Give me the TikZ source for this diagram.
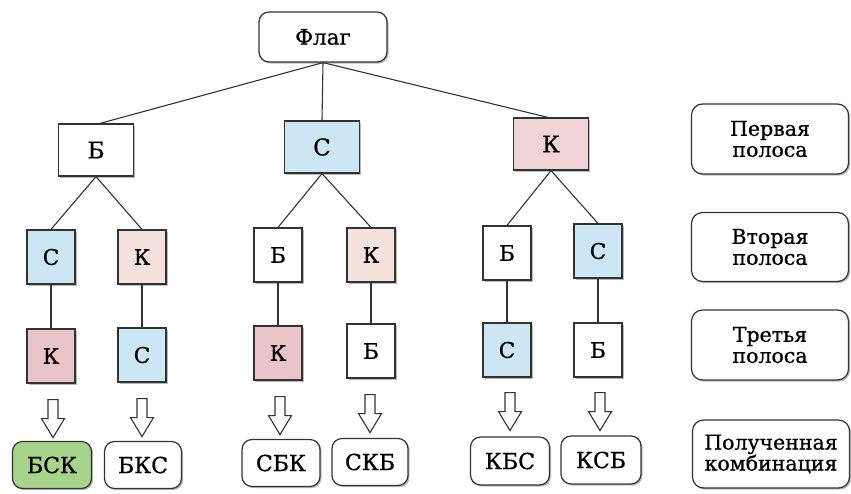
\documentclass[tikz,border=0pt]{standalone}
\usepackage{fontspec}
\setmainfont{DejaVu Serif}[FakeBold=0.8]
\usetikzlibrary{shadows,calc}
\definecolor{cblue}{HTML}{CDE6F3}
\definecolor{cpink}{HTML}{EFD3D6}
\definecolor{cpeach}{HTML}{F5E2DC}
\definecolor{crose}{HTML}{E9C4C8}
\definecolor{cgreen}{HTML}{A8D38A}
\begin{document}
\begin{tikzpicture}[x=1pt,y=-1pt,
  shadowed/.style={drop shadow={shadow xshift=1.6pt,shadow yshift=-1.6pt,fill=black!50,opacity=0.55}},
  sq/.style={draw=black!80, line width=1.2pt, fill=white, inner sep=0pt, shadowed,
     minimum width=48pt, minimum height=54pt, font=\fontsize{21.5}{24}\selectfont},
  top/.style={sq, minimum width=75pt, minimum height=52pt, font=\fontsize{23}{25}\selectfont},
  res/.style={draw=black!80, line width=1.2pt, fill=white, rounded corners=10pt, inner sep=0pt, shadowed,
     minimum width=78pt, minimum height=47pt, font=\fontsize{22}{24}\selectfont},
  lab/.style={draw=black!80, line width=1.2pt, fill=white, rounded corners=11pt, inner sep=0pt, shadowed,
     minimum width=157pt, minimum height=70pt, align=center, font=\fontsize{20.5}{23}\selectfont},
  link/.style={draw=black!80, line width=1.1pt},
  hollow/.pic={\draw[black!80, line width=1.1pt, fill=white] (-5,0)--(5,0)--(5,19)--(11.5,19)--(0,38)--(-11.5,19)--(-5,19)--cycle;}
]
\useasboundingbox (0,0) rectangle (851,493);

% root
\node[res, minimum width=128pt, minimum height=50pt, font=\fontsize{21.5}{24}\selectfont] (flag) at (323,37) {Флаг};

% level 1
\node[top] (b) at (96,150) {Б};
\node[top, fill=cblue] (c) at (322,147) {С};
\node[top, fill=cpink] (k) at (551,144) {К};

% level 2
\node[sq, fill=cblue] (bc) at (51,257) {С};
\node[sq, fill=cpeach] (bk) at (142,257) {К};
\node[sq] (cb) at (278,255) {Б};
\node[sq, fill=cpeach] (ck) at (371,255) {К};
\node[sq] (kb) at (507,253) {Б};
\node[sq, fill=cblue] (kc) at (598,251) {С};

% level 3
\node[sq, fill=crose] (bck) at (51,356) {К};
\node[sq, fill=cblue] (bkc) at (142,355) {С};
\node[sq, fill=crose] (cbk) at (278,353) {К};
\node[sq] (ckb) at (371,351) {Б};
\node[sq, fill=cblue] (kbc) at (507,350) {С};
\node[sq] (kcb) at (598,350) {Б};

% results
\node[res, fill=cgreen, minimum width=79pt] (r1) at (52,465) {БСК};
\node[res, minimum width=77pt] (r2) at (143,465) {БКС};
\node[res] (r3) at (281,463) {СБК};
\node[res, minimum width=76pt] (r4) at (370,462) {СКБ};
\node[res, minimum width=79pt, minimum height=48pt] (r5) at (510,461) {КБС};
\node[res, minimum width=80pt, minimum height=48pt] (r6) at (601,460) {КСБ};

% right labels
\node[lab] (l1) at (770,139) {Первая\\[-2pt]полоса};
\node[lab, minimum height=69pt] (l2) at (770,247) {Вторая\\[-2pt]полоса};
\node[lab] (l3) at (770,345) {Третья\\[-2pt]полоса};
\node[lab, minimum height=68pt] (l4) at (771,454) {Полученная\\[-2pt]комбинация};

% connectors
\draw[link] (flag.south) -- ($(b.north)+(4,0)$);
\draw[link] (flag.south) -- (c.north);
\draw[link] (flag.south) -- ($(k.north)+(-3,0)$);
\draw[link] (b.south) -- (bc.north);
\draw[link] (b.south) -- (bk.north);
\draw[link] (c.south) -- (cb.north);
\draw[link] (c.south) -- (ck.north);
\draw[link] (k.south) -- (kb.north);
\draw[link] (k.south) -- (kc.north);
\draw[link] (bc.south) -- (bck.north);
\draw[link] (bk.south) -- (bkc.north);
\draw[link] (cb.south) -- (cbk.north);
\draw[link] (ck.south) -- (ckb.north);
\draw[link] (kb.south) -- (kbc.north);
\draw[link] (kc.south) -- (kcb.north);

% hollow arrows
\pic at ($(bck.south)+(2,16)$) {hollow};
\pic at ($(bkc.south)+(0,16)$) {hollow};
\pic at ($(cbk.south)+(2,16)$) {hollow};
\pic at ($(ckb.south)+(-1,16)$) {hollow};
\pic at ($(kbc.south)+(3,15)$) {hollow};
\pic at ($(kcb.south)+(2,15)$) {hollow};
\end{tikzpicture}
\end{document}
